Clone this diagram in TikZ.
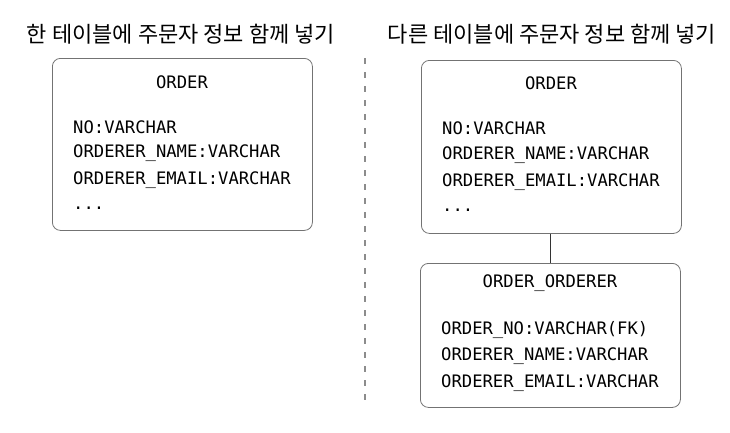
\documentclass[tikz,border=0pt]{standalone}
\usepackage{fontspec}
\newfontfamily\kor{Noto Sans CJK KR}
\newfontfamily\code{DejaVu Sans Mono}
\begin{document}
\begin{tikzpicture}[x=1bp,y=-1bp,
  tbl/.style={draw=black!55, line width=0.8bp, rounded corners=8bp},
  ttl/.style={font=\kor\fontsize{22bp}{26bp}\selectfont, inner sep=0pt},
  fld/.style={font=\code\fontsize{17.2bp}{20bp}\selectfont, anchor=west, inner sep=0pt},
  hdr/.style={font=\code\fontsize{17.2bp}{20bp}\selectfont, inner sep=0pt},
  link/.style={draw=black!80, line width=0.8bp}]
\useasboundingbox (0,0) rectangle (730,432);
% titles
\node[ttl] (t1) at (181,34) {한 테이블에 주문자 정보 함께 넣기};
\node[ttl] (t2) at (552,34) {다른 테이블에 주문자 정보 함께 넣기};
% divider
\coordinate (d1) at (365,58);
\coordinate (d2) at (365,406);
\draw[black!45, line width=1.1bp, dash pattern=on 6bp off 8bp] (d1) -- (d2);
% left ORDER
\node[tbl, minimum width=260bp, minimum height=172bp, anchor=north west] (lo) at (52,58) {};
\node[hdr] (loh) at (182,82) {ORDER};
\node[fld] (lo1) at (73,127) {NO:VARCHAR};
\node[fld] (lo2) at (73,153.5) {ORDERER\_NAME:VARCHAR};
\node[fld] (lo3) at (73,180) {ORDERER\_EMAIL:VARCHAR};
\node[fld] (lo4) at (73,208) {...};
% right ORDER
\node[tbl, minimum width=260bp, minimum height=173bp, anchor=north west] (ro) at (421,60) {};
\node[hdr] (roh) at (551,83) {ORDER};
\node[fld] (ro1) at (442,128) {NO:VARCHAR};
\node[fld] (ro2) at (442,155) {ORDERER\_NAME:VARCHAR};
\node[fld] (ro3) at (442,182) {ORDERER\_EMAIL:VARCHAR};
\node[fld] (ro4) at (442,210) {...};
% ORDER_ORDERER
\node[tbl, minimum width=260bp, minimum height=144bp, anchor=north west] (oo) at (420,263) {};
\node[hdr] (ooh) at (550,283) {ORDER\_ORDERER};
\node[fld] (oo1) at (441,330) {ORDER\_NO:VARCHAR(FK)};
\node[fld] (oo2) at (441,356.5) {ORDERER\_NAME:VARCHAR};
\node[fld] (oo3) at (441,383) {ORDERER\_EMAIL:VARCHAR};
% connector
\draw[link] (ro.south -| oo.north) -- (oo.north);
\end{tikzpicture}
\end{document}
